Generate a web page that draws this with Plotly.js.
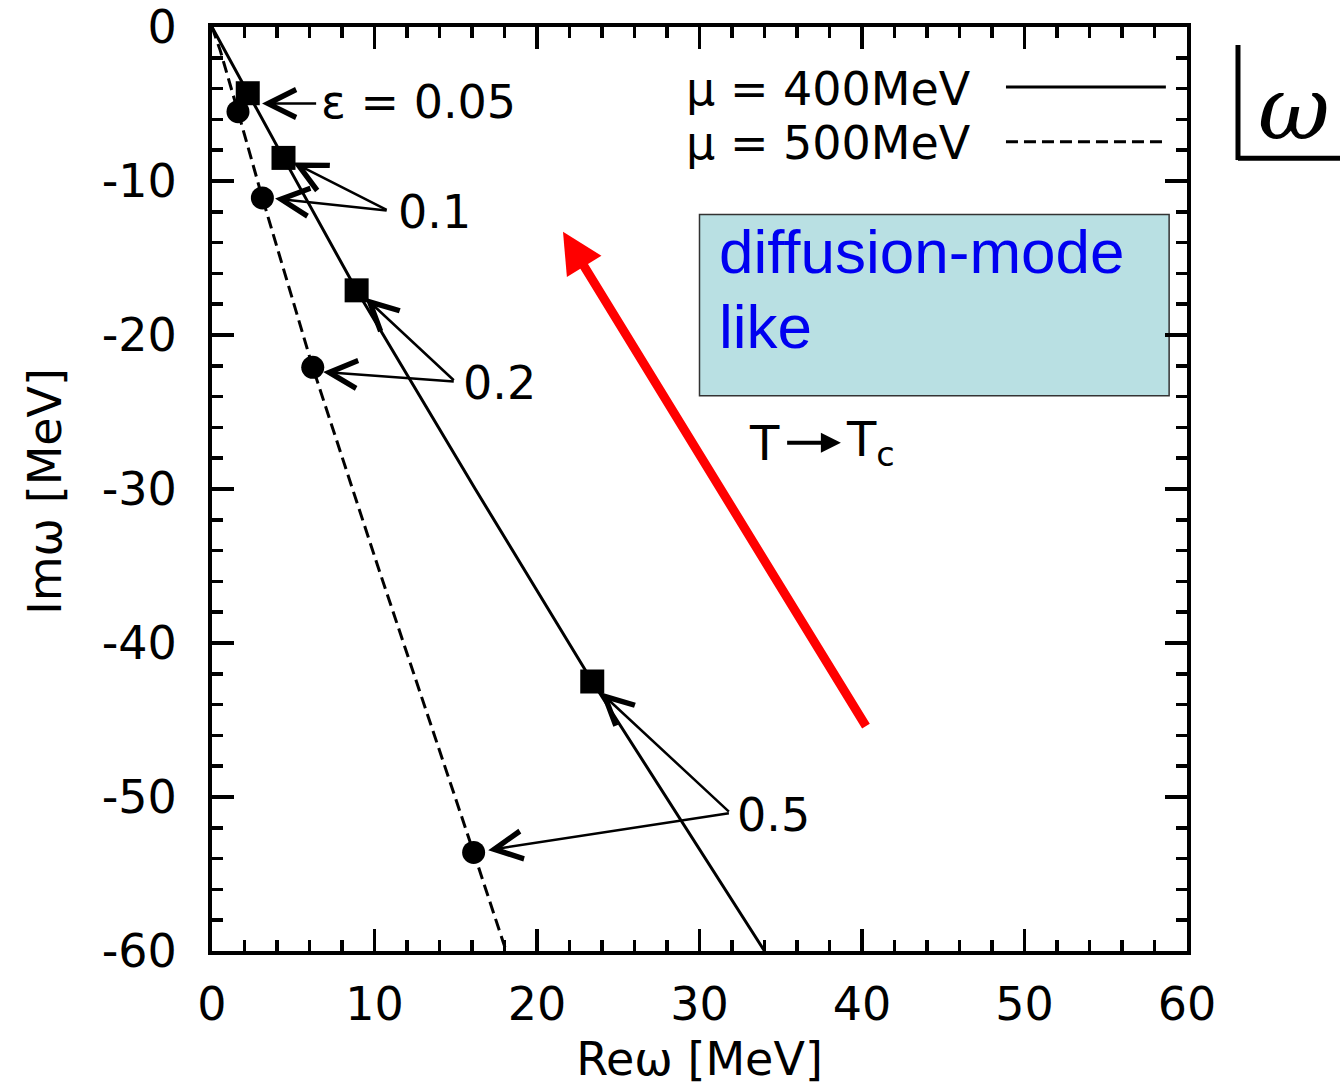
<!DOCTYPE html>
<html>
<head>
<meta charset="utf-8">
<script src="https://cdn.plot.ly/plotly-3.0.1.min.js"></script>
<style>html,body{margin:0;padding:0;background:#fff;}#chart{width:1340px;height:1087px;}</style>
</head>
<body>
<div id="chart"></div>
<script>
// ---- data ----
// mu = 400 MeV pole trajectory (solid line)
const line400_re = [0, 2.2, 4.4, 8.9, 16.2, 23.4, 34.0];
const line400_im = [0, -4.3, -8.5, -17.1, -30.0, -42.5, -60.0];
// mu = 500 MeV pole trajectory (dashed line)
const line500_re = [0, 0.5, 1.6, 3.1, 6.2, 10.2, 16.1, 18.1];
const line500_im = [0, -1.5, -5.5, -11.1, -22.1, -35.0, -53.6, -60.0];
// epsilon-marked points
const epsLabels = ["ε = 0.05", "0.1", "0.2", "0.5"];
const sq_re = [2.2, 4.4, 8.9, 23.4];
const sq_im = [-4.3, -8.5, -17.1, -42.5];
const ci_re = [1.6, 3.1, 6.2, 16.1];
const ci_im = [-5.5, -11.1, -22.1, -53.6];
// label anchor (left edge, middle) and arrow tails
const lab_re = [6.6, 11.3, 15.3, 32.2];
const lab_im = [-4.9, -12.0, -23.1, -51.2];
const tail_re = [6.5, 10.84, 14.97, 31.9];
const tail_im = [-4.97, -11.92, -23.03, -51.04];
// arrow heads near squares / circles
const headSq_re = [3.08, 4.99, 9.43, 23.9];
const headSq_im = [-4.97, -8.8, -17.58, -43.2];
const headCi_re = [null, 3.88, 6.84, 17.0];
const headCi_im = [null, -11.14, -22.4, -53.45];
// axes
const xTicks = [0, 10, 20, 30, 40, 50, 60];
const yTicks = [0, -10, -20, -30, -40, -50, -60];
const xTitle = "Reω [MeV]";
const yTitle = "Imω [MeV]";
const legendNames = ["μ = 400MeV", "μ = 500MeV"];

const FONT = "DejaVu Sans, Liberation Sans, Arial, sans-serif";
const FONT_BLUE = "Liberation Sans, Arial, Helvetica, sans-serif";

const traces = [
  {x: line400_re, y: line400_im, mode: "lines", line: {color: "black", width: 3}, showlegend: false, hoverinfo: "skip"},
  {x: line500_re, y: line500_im, mode: "lines", line: {color: "black", width: 3, dash: "12px,6px"}, showlegend: false, hoverinfo: "skip"},
  {x: sq_re, y: sq_im, mode: "markers", marker: {symbol: "square", size: 24, color: "black"}, showlegend: false},
  {x: ci_re, y: ci_im, mode: "markers", marker: {symbol: "circle", size: 23, color: "black"}, showlegend: false}
];

const ann = [];
for (let i = 0; i < epsLabels.length; i++) {
  ann.push({x: lab_re[i], y: lab_im[i], text: epsLabels[i], showarrow: false, xanchor: "left", yanchor: "middle",
            font: {family: FONT, size: 46, color: "black"}});
  ann.push({x: headSq_re[i], y: headSq_im[i], ax: tail_re[i], ay: tail_im[i], axref: "x", ayref: "y", text: "",
            showarrow: true, arrowhead: 5, arrowsize: 2.2, arrowwidth: 2.5, arrowcolor: "black", standoff: 0, startstandoff: 0});
  if (headCi_re[i] !== null) {
    ann.push({x: headCi_re[i], y: headCi_im[i], ax: tail_re[i], ay: tail_im[i], axref: "x", ayref: "y", text: "",
              showarrow: true, arrowhead: 5, arrowsize: 2.2, arrowwidth: 2.5, arrowcolor: "black", standoff: 0, startstandoff: 0});
  }
}
// y axis title (placed as rotated text so it sits where the reference has it)
ann.push({xref: "paper", yref: "paper", x: -0.1713, y: 0.498, text: yTitle, textangle: -90, showarrow: false,
          xanchor: "center", yanchor: "middle", font: {family: FONT, size: 46, color: "black"}});
// legend texts
ann.push({x: 46.8, y: -4.0, text: legendNames[0], showarrow: false, xanchor: "right", yanchor: "middle", font: {family: FONT, size: 46, color: "black"}});
ann.push({x: 46.8, y: -7.5, text: legendNames[1], showarrow: false, xanchor: "right", yanchor: "middle", font: {family: FONT, size: 46, color: "black"}});
// diffusion-mode box text
ann.push({x: 31.1, y: -14.59, text: "diffusion-mode", showarrow: false, xanchor: "left", yanchor: "middle", font: {family: FONT_BLUE, size: 62, color: "#0000f0"}});
ann.push({x: 31.1, y: -19.46, text: "like", showarrow: false, xanchor: "left", yanchor: "middle", font: {family: FONT_BLUE, size: 62, color: "#0000f0"}});
// T -> Tc
ann.push({x: 34.0, y: -27.0, text: "T", showarrow: false, xanchor: "center", yanchor: "middle", font: {family: FONT, size: 48, color: "black"}});
ann.push({x: 38.7, y: -27.0, ax: 35.3, ay: -27.0, axref: "x", ayref: "y", text: "", showarrow: true, arrowhead: 2, arrowsize: 1, arrowwidth: 4, arrowcolor: "black", standoff: 0});
ann.push({x: 38.88, y: -27.0, text: "T<sub>c</sub>", showarrow: false, xanchor: "left", yanchor: "middle", font: {family: FONT, size: 48, color: "black"}});
// red arrow
ann.push({x: 21.6, y: -13.3, ax: 40.3, ay: -45.5, axref: "x", ayref: "y", text: "", showarrow: true, arrowhead: 2, arrowsize: 0.9, arrowwidth: 9, arrowcolor: "#ff0000", standoff: 0});
// omega symbol (outside the plot)
ann.push({xref: "paper", yref: "paper", x: 1.0705, y: 0.912, text: "ω", showarrow: false, xanchor: "left", yanchor: "middle",
          font: {family: "DejaVu Serif, Liberation Serif, serif", size: 88, color: "black", style: "italic"}});

const shapes = [
  // diffusion-mode box
  {type: "rect", xref: "x", yref: "y", x0: 30.0, x1: 58.9, y0: -12.18, y1: -23.94, fillcolor: "#b9e0e3", line: {color: "#333", width: 1.5}, layer: "below"},
  // legend samples
  {type: "line", xref: "x", yref: "y", x0: 48.86, x1: 58.7, y0: -3.9, y1: -3.9, line: {color: "black", width: 3}},
  {type: "line", xref: "x", yref: "y", x0: 48.86, x1: 58.7, y0: -7.45, y1: -7.45, line: {color: "black", width: 3, dash: "12px,6px"}},
  // bracket next to omega
  {type: "line", xref: "paper", yref: "paper", x0: 1.0523, x1: 1.0523, y0: 0.9805, y1: 0.856, line: {color: "black", width: 5}},
  {type: "line", xref: "paper", yref: "paper", x0: 1.0523, x1: 1.16, y0: 0.858, y1: 0.858, line: {color: "black", width: 5}}
];

const axisCommon = {
  showgrid: false, zeroline: false, showline: true, linecolor: "black", linewidth: 4, mirror: "allticks",
  ticks: "inside", ticklen: 22, tickwidth: 3.5, tickcolor: "black",
  tickfont: {family: FONT, size: 46, color: "black"},
  minor: {dtick: 2, ticks: "inside", ticklen: 11, tickwidth: 3.5, tickcolor: "black", showgrid: false},
  automargin: false
};

const layout = {
  width: 1340, height: 1087,
  margin: {l: 212, r: 153, t: 27, b: 136, pad: 0},
  paper_bgcolor: "white", plot_bgcolor: "white",
  showlegend: false,
  xaxis: Object.assign({}, axisCommon, {
    range: [0, 60], tickvals: xTicks, ticktext: xTicks.map(String), ticklabelstandoff: 10,
    title: {text: xTitle, font: {family: FONT, size: 46, color: "black"}, standoff: 14}
  }),
  yaxis: Object.assign({}, axisCommon, {
    range: [-60, 0], tickvals: yTicks, ticktext: yTicks.map(String), ticklabelstandoff: 22
  }),
  annotations: ann,
  shapes: shapes
};

Plotly.newPlot("chart", traces, layout, {displayModeBar: false, staticPlot: true});
</script>
</body>
</html>
